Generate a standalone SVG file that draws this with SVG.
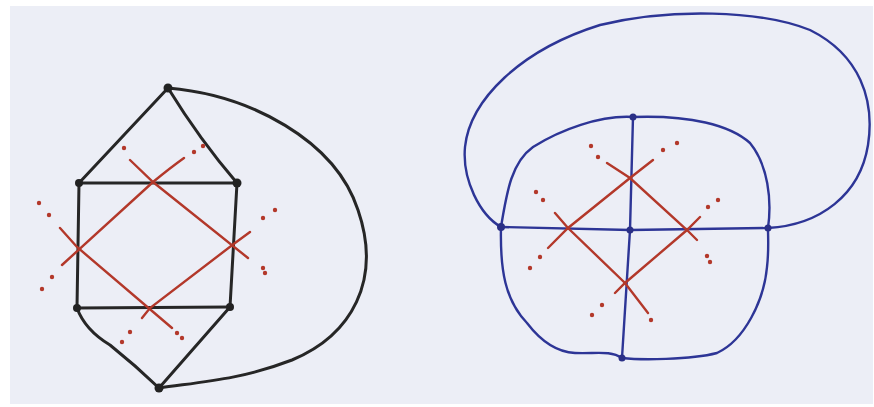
<svg xmlns="http://www.w3.org/2000/svg" width="874" height="407" viewBox="0 0 874 407">
<defs>
<style>
.bk{fill:none;stroke:#262626;stroke-width:3;stroke-linecap:round;stroke-linejoin:round}
.bl{fill:none;stroke:#2d3596;stroke-width:2.4;stroke-linecap:round;stroke-linejoin:round}
.rd{fill:none;stroke:#b3382a;stroke-width:2.4;stroke-linecap:round}
.dt{fill:#b3382a}
.nb{fill:#222}
.nu{fill:#2a2f86}
</style>
</defs>
<rect width="874" height="407" fill="#ffffff"/>
<rect x="10" y="6" width="863" height="398" fill="#eceef6"/>
<g id="connectors">
<!-- left graph black edges -->
<path class="bk" d="M168,88 L79,183"/>
<path class="bk" d="M168,88 Q200,140 237,183"/>
<path class="bk" d="M79,183 L237,183"/>
<path class="bk" d="M79,183 L77,308"/>
<path class="bk" d="M237,183 L230,307"/>
<path class="bk" d="M77,308 L230,307"/>
<path class="bk" d="M77,308 Q85,330 110,345 Q135,365 159,388"/>
<path class="bk" d="M230,307 L159,388"/>
<path class="bk" d="M168,88 C250,95 335,140 358,210 C382,280 352,335 292,360 C240,380 200,382 159,388"/>
<!-- left graph red dual -->
<path class="rd" d="M62,265 L153,182 Q170,168 184,158"/>
<path class="rd" d="M130,160 L153,182 L248,258"/>
<path class="rd" d="M60,228 L77,247 L172,328"/>
<path class="rd" d="M250,232 L235,243 L150,308 L142,318"/>
<circle class="dt" cx="194" cy="152" r="2.2"/><circle class="dt" cx="203" cy="146" r="2.2"/>
<circle class="dt" cx="124" cy="148" r="2.2"/>
<circle class="dt" cx="52" cy="277" r="2.2"/><circle class="dt" cx="42" cy="289" r="2.2"/>
<circle class="dt" cx="49" cy="215" r="2.2"/><circle class="dt" cx="39" cy="203" r="2.2"/>
<circle class="dt" cx="263" cy="268" r="2.2"/><circle class="dt" cx="265" cy="273" r="2.2"/>
<circle class="dt" cx="263" cy="218" r="2.2"/><circle class="dt" cx="275" cy="210" r="2.2"/>
<circle class="dt" cx="177" cy="333" r="2.2"/><circle class="dt" cx="182" cy="338" r="2.2"/>
<circle class="dt" cx="130" cy="332" r="2.2"/><circle class="dt" cx="122" cy="342" r="2.2"/>
<!-- right graph blue edges -->
<path class="bl" d="M501,227 L630,230 L768,228"/>
<path class="bl" d="M633,117 L630,230 L622,358"/>
<path class="bl" d="M633,117 C600,115 560,130 533,147 C512,162 507,190 501,227 C500,270 505,300 527,323 C540,340 555,352 575,353 C595,354 610,350 622,358 C640,360 690,360 717,353 C745,340 764,300 767,267 C769,250 768,238 768,228 C772,200 768,165 750,143 C730,125 690,115 633,117"/>
<path class="bl" d="M501,227 C480,215 462,180 465,147 C470,100 520,50 600,25 C670,8 760,10 810,30 C860,55 875,100 868,145 C860,195 820,225 768,228"/>
<!-- right graph red dual -->
<path class="rd" d="M548,248 L568,228 L630,178 L653,160"/>
<path class="rd" d="M607,163 L630,178 L687,230 L697,240"/>
<path class="rd" d="M555,213 L568,228 L625,283 L648,313"/>
<path class="rd" d="M700,217 L687,230 L625,283 L615,293"/>
<circle class="dt" cx="663" cy="150" r="2.2"/><circle class="dt" cx="677" cy="143" r="2.2"/>
<circle class="dt" cx="540" cy="257" r="2.2"/><circle class="dt" cx="530" cy="268" r="2.2"/>
<circle class="dt" cx="598" cy="157" r="2.2"/><circle class="dt" cx="591" cy="146" r="2.2"/>
<circle class="dt" cx="707" cy="256" r="2.2"/><circle class="dt" cx="710" cy="262" r="2.2"/>
<circle class="dt" cx="543" cy="200" r="2.2"/><circle class="dt" cx="536" cy="192" r="2.2"/>
<circle class="dt" cx="651" cy="320" r="2.2"/>
<circle class="dt" cx="708" cy="207" r="2.2"/><circle class="dt" cx="718" cy="200" r="2.2"/>
<circle class="dt" cx="602" cy="305" r="2.2"/><circle class="dt" cx="592" cy="315" r="2.2"/>
</g>
<g id="left-top"><circle class="nb" cx="168" cy="88" r="4.5"/></g>
<g id="left-ul"><circle class="nb" cx="79" cy="183" r="4"/></g>
<g id="left-ur"><circle class="nb" cx="237" cy="183" r="4.5"/></g>
<g id="left-ll"><circle class="nb" cx="77" cy="308" r="4"/></g>
<g id="left-lr"><circle class="nb" cx="230" cy="307" r="4"/></g>
<g id="left-bottom"><circle class="nb" cx="159" cy="388" r="4.5"/></g>
<g id="right-top"><circle class="nu" cx="633" cy="117" r="3.5"/></g>
<g id="right-left"><circle class="nu" cx="501" cy="227" r="4"/></g>
<g id="right-center"><circle class="nu" cx="630" cy="230" r="3.5"/></g>
<g id="right-right"><circle class="nu" cx="768" cy="228" r="3.5"/></g>
<g id="right-bottom"><circle class="nu" cx="622" cy="358" r="3.5"/></g>
</svg>
